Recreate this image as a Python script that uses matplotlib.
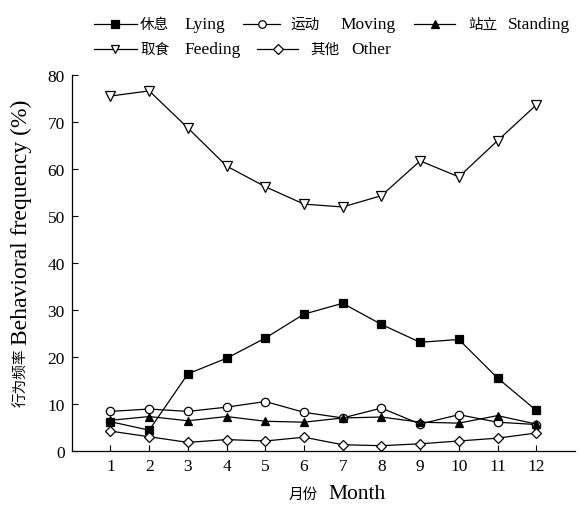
import matplotlib.pyplot as plt
import numpy as np
from matplotlib.lines import Line2D

plt.rcParams['font.family'] = ['Liberation Serif', 'Noto Sans CJK SC']

months = np.arange(1, 13)
lying = [6.2, 4.4, 16.4, 19.7, 24.0, 29.1, 31.4, 26.9, 23.1, 23.7, 15.5, 8.6]
moving = [8.4, 8.9, 8.4, 9.3, 10.5, 8.2, 7.0, 9.1, 5.7, 7.7, 6.1, 5.6]
standing = [6.5, 7.3, 6.4, 7.3, 6.3, 6.1, 7.0, 7.2, 6.1, 5.9, 7.5, 5.7]
feeding = [75.5, 76.6, 68.7, 60.6, 56.2, 52.5, 51.9, 54.3, 61.7, 58.3, 66.0, 73.6]
other = [4.2, 3.0, 1.8, 2.4, 2.1, 2.9, 1.3, 1.1, 1.5, 2.1, 2.7, 3.8]

names_cn = ['休息', '运动', '站立', '取食', '其他']
names_en = ['Lying', 'Moving', 'Standing', 'Feeding', 'Other']

W, H = 579, 506
fig = plt.figure(figsize=(W / 100, H / 100), dpi=100)
ax = fig.add_axes([0.124, 0.107, 0.869, 0.743])


def fx(px):
    return px / W


def fy(py):
    return 1 - py / H


styles = [
    dict(marker='s', mfc='black', ms=6),
    dict(marker='o', mfc='white', ms=6),
    dict(marker='^', mfc='black', ms=6),
    dict(marker='v', mfc='white', ms=6.5),
    dict(marker='D', mfc='white', ms=5.5),
]
kw = dict(color='black', lw=0.9, mec='black', mew=0.9)

for data, st in zip([lying, moving, standing, feeding, other], styles):
    ax.plot(months, data, **st, **kw)

ax.set_xlim(0, 13)
ax.set_ylim(0, 80)
ax.set_xticks(months)
ax.set_yticks(np.arange(0, 81, 10))
ax.tick_params(direction='in', length=4, width=0.8, labelsize=12.5, pad=5)
ax.spines['top'].set_visible(False)
ax.spines['right'].set_visible(False)
for s in ('left', 'bottom'):
    ax.spines[s].set_linewidth(0.9)

# axis titles: the Chinese part is set smaller than the English part
cn_size = 10.5
fig.text(fx(318), fy(495), '月份', fontsize=cn_size, ha='right', va='center')
fig.text(fx(328), fy(495), 'Month', fontsize=15.5, ha='left', va='center')
fig.text(fx(21), fy(407), '行为频率', fontsize=cn_size, rotation=90,
         ha='center', va='bottom')
fig.text(fx(21), fy(345), 'Behavioral frequency (%)', fontsize=17,
         rotation=90, ha='center', va='bottom')

# legend laid out like the original (rows are not column-aligned)
# (handle start, handle end, chinese x, english x, row y)
legend_pos = [(94, 137, 140, 184, 25), (243, 280, 290, 340, 25),
              (414, 455, 468, 508, 25), (94, 137, 140, 184, 50),
              (257, 298, 310, 351, 50)]
for (x0, x1, xc, xe, yt), st, cn, en in zip(legend_pos, styles, names_cn, names_en):
    hs = {**st, 'ms': st['ms'] * 0.9}
    fig.add_artist(Line2D([fx(x0), fx((x0 + x1) / 2), fx(x1)], [fy(yt)] * 3,
                          transform=fig.transFigure, markevery=[1],
                          **hs, **kw))
    fig.text(fx(xc), fy(yt), cn, fontsize=cn_size, ha='left', va='center')
    fig.text(fx(xe), fy(yt), en, fontsize=12.5, ha='left', va='center')

fig.savefig('out.png', dpi=100)
